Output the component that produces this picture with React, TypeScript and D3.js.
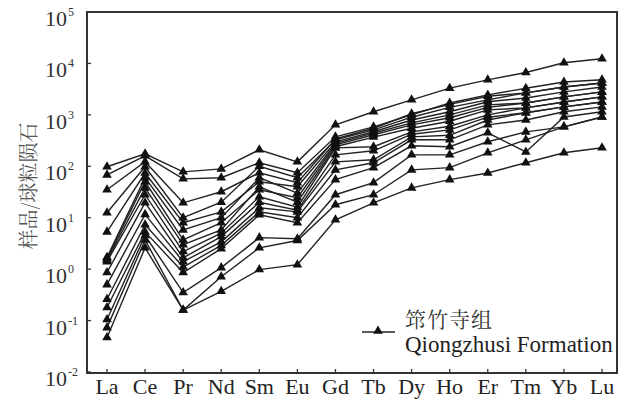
import React from 'react';
import * as d3 from 'd3';

// REE elements along the x axis
const elements = ['La', 'Ce', 'Pr', 'Nd', 'Sm', 'Eu', 'Gd', 'Tb', 'Dy', 'Ho', 'Er', 'Tm', 'Yb', 'Lu'];

// chondrite-normalised values, one array per sample
const qz01 = [98, 175, 78, 89, 210, 122, 640, 1150, 1960, 3300, 4800, 6650, 10300, 12300];
const qz02 = [68, 160, 57, 60, 117, 75, 374, 585, 1000, 1700, 2440, 3300, 4360, 4800];
const qz03 = [35, 123, 19.5, 32, 75, 48, 340, 550, 1050, 1600, 2300, 2680, 3470, 4170];
const qz04 = [12.5, 98, 10, 20, 100, 60, 327, 510, 900, 1400, 1960, 2680, 3470, 4170];
const qz05 = [5.3, 74, 8, 13, 50, 40, 300, 470, 795, 1150, 1800, 2130, 2800, 3470];
const qz06 = [1.7, 60, 5.8, 10, 60, 30, 280, 440, 700, 1000, 1560, 1700, 2240, 2800];
const qz07 = [1.6, 50, 3.7, 8, 35, 24.5, 262, 410, 640, 880, 1400, 1700, 2240, 2800];
const qz08 = [1.5, 38, 3, 5.8, 40, 20, 240, 370, 550, 750, 1250, 1370, 1780, 2240];
const qz09 = [1.4, 28, 2.2, 5, 25.6, 16, 228, 240, 467, 600, 1000, 1370, 1780, 2240];
const qz10 = [0.86, 19.6, 1.66, 4.3, 20, 14, 167, 200, 420, 510, 900, 1100, 1430, 1780];
const qz11 = [0.5, 11.6, 1.4, 3.4, 15.6, 13, 122, 134, 374, 400, 795, 1100, 1430, 1780];
const qz12 = [0.26, 7.3, 1.1, 2.9, 13, 10, 85, 117, 327, 327, 640, 795, 1150, 1430];
const qz13 = [0.18, 5.3, 0.86, 2.5, 11.4, 8, 55, 94, 250, 240, 447, 190, 910, 1150];
const qz14 = [0.105, 4.5, 0.35, 1.07, 4.1, 3.9, 28, 48, 167, 167, 300, 467, 585, 910];
const qz15 = [0.073, 3.7, 0.16, 0.71, 2.6, 3.6, 17.9, 28, 85, 94, 183, 327, 585, 910];
const qz16 = [0.047, 2.6, 0.16, 0.37, 0.98, 1.22, 9.1, 19.5, 38, 55, 74, 117, 183, 230];

const samples = [qz01, qz02, qz03, qz04, qz05, qz06, qz07, qz08, qz09, qz10, qz11, qz12, qz13, qz14, qz15, qz16];

const exponents = [-2, -1, 0, 1, 2, 3, 4, 5];

const W = 620;
const H = 401;
const frame = { left: 87, right: 617, top: 12, bottom: 373 };

const song = "'Noto Serif CJK SC'";

const App = () => {
  const x = d3.scalePoint<string>().domain(elements).range([107, 602]);
  const y = d3.scaleLog().domain([1e-2, 1e5]).range([372, 12]);

  const line = d3.line<number>()
    .x((d, i) => x(elements[i]) as number)
    .y(d => y(d));

  const tri = d3.symbol().type(d3.symbolTriangle).size(40)();

  return (
    <svg width={W} height={H} style={{ position: 'absolute', left: 0, top: 0, background: '#fff' }}>
      <style>{`
        .ser { font-family: 'Liberation Serif', 'Times New Roman', Tinos, 'Nimbus Roman', serif; }
      `}</style>
      {/* sample lines */}
      <g fill="none" stroke="#222" strokeWidth={1.4}>
        {samples.map((s, i) => <path key={i} d={line(s) || ''} />)}
      </g>
      <g fill="#111">
        {samples.map((s, i) => s.map((v, j) => (
          <path key={i + '-' + j} d={tri || ''} transform={`translate(${x(elements[j])},${y(v)})`} />
        )))}
      </g>

      {/* frame */}
      <rect x={frame.left} y={frame.top} width={frame.right - frame.left} height={frame.bottom - frame.top}
        fill="none" stroke="#333" strokeWidth={2} />

      {/* y axis */}
      {exponents.map(e => {
        const yy = y(Math.pow(10, e));
        return (
          <g key={e} fill="#333">
            <line x1={frame.left} x2={frame.left + 4} y1={yy} y2={yy} stroke="#333" strokeWidth={1.3} />
            <text className="ser" x={67} y={yy + 14} textAnchor="end" fontSize={22}>10</text>
            <text className="ser" x={68} y={yy + 4} fontSize={12}>{e}</text>
          </g>
        );
      })}

      {/* x axis */}
      {elements.map(el => (
        <g key={el}>
          <line x1={x(el)} x2={x(el)} y1={frame.bottom} y2={frame.bottom - 4} stroke="#333" strokeWidth={1.3} />
          <text className="ser" x={x(el)} y={394} textAnchor="middle" fontSize={22} fill="#222">{el}</text>
        </g>
      ))}

      {/* y title */}
      <text transform="translate(36,186) rotate(-90)" textAnchor="middle" fontSize={20} fill="#555"
        style={{ fontFamily: song }}>
        样品/球粒陨石
      </text>

      {/* legend */}
      <line x1={362} x2={395} y1={332} y2={332} stroke="#222" strokeWidth={1.3} />
      <path d={tri || ''} transform="translate(378,331)" fill="#111" />
      <text x={405} y={327} fontSize={21} fill="#333" letterSpacing={1} style={{ fontFamily: song }}>筇竹寺组</text>
      <text className="ser" x={405} y={352} fontSize={23} fill="#222">Qiongzhusi Formation</text>
    </svg>
  );
};

export default App;
